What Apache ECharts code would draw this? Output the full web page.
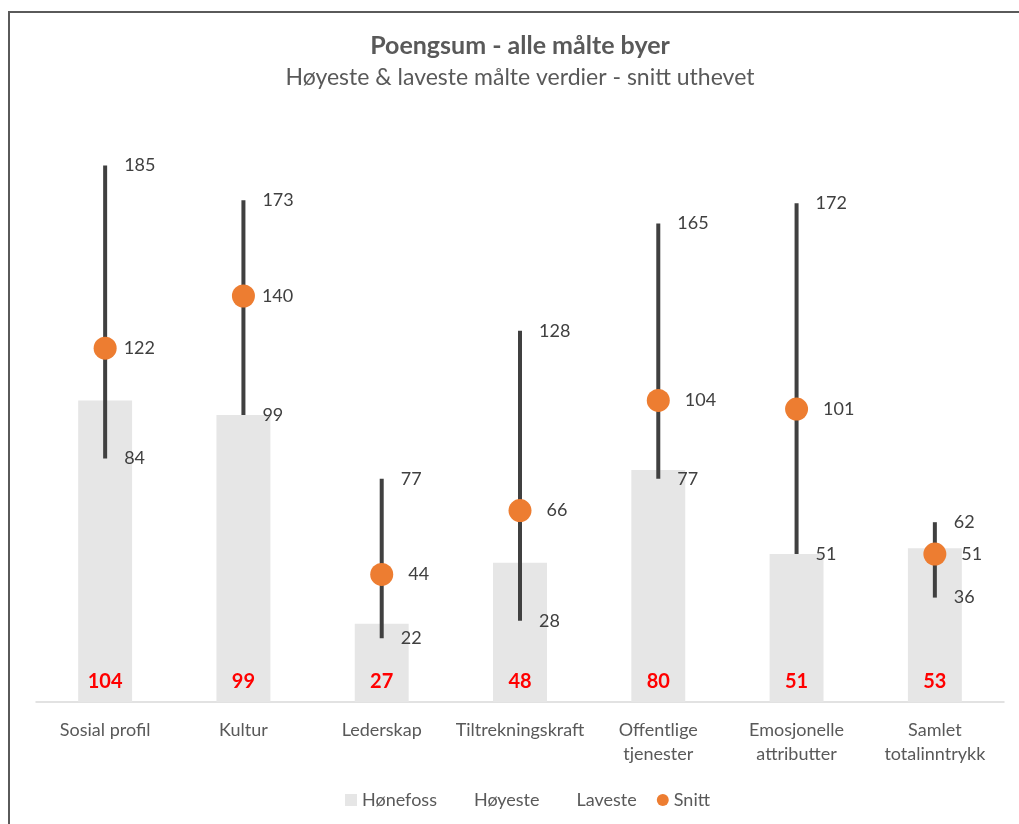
<!DOCTYPE html>
<html>
<head>
<meta charset="utf-8">
<script src="https://cdn.jsdelivr.net/npm/echarts@6/dist/echarts.min.js"></script>
<style>
html,body{margin:0;padding:0;background:#fff;}
#c{width:1019px;height:824px;}
</style>
</head>
<body>
<div id="c"></div>
<script>
const categories = ['Sosial profil', 'Kultur', 'Lederskap', 'Tiltrekningskraft', 'Offentlige\ntjenester', 'Emosjonelle\nattributter', 'Samlet\ntotalinntrykk'];
const honefoss = [104, 99, 27, 48, 80, 51, 53];
const hoyeste = [185, 173, 77, 128, 165, 172, 62];
const laveste = [84, 99, 22, 28, 77, 51, 36];
const snitt = [122, 140, 44, 66, 104, 101, 51];

const FONT = 'Lato, "Noto Sans", sans-serif';
const chart = echarts.init(document.getElementById('c'));

const rangeData = categories.map((c, i) => [i, laveste[i], hoyeste[i]]);

chart.setOption({
  animation: false,
  backgroundColor: '#ffffff',
  textStyle: { fontFamily: FONT },
  graphic: [
    { type: 'polyline', shape: { points: [[9, 824], [9, 12], [1019, 12]] }, style: { stroke: '#5a5a5a', lineWidth: 2, fill: null }, silent: true },
    { type: 'text', x: 520, y: 46, style: { text: 'Poengsum - alle målte byer', textAlign: 'center', textVerticalAlign: 'middle', font: 'bold 25px ' + FONT, fill: '#595959' } },
    { type: 'text', x: 520, y: 78, style: { text: 'Høyeste & laveste målte verdier - snitt uthevet', textAlign: 'center', textVerticalAlign: 'middle', font: '23px ' + FONT, fill: '#595959' } }
  ],
  legend: {
    left: 340,
    top: 786,
    itemWidth: 12,
    itemHeight: 12,
    itemGap: 20,
    textStyle: { color: '#595959', fontSize: 18, fontFamily: FONT },
    data: [
      { name: 'Hønefoss', icon: 'rect' },
      { name: 'Høyeste', icon: 'none' },
      { name: 'Laveste', icon: 'none' },
      { name: 'Snitt', icon: 'circle' }
    ]
  },
  grid: { left: 36, right: 15, top: 122, bottom: 122, containLabel: false },
  xAxis: {
    type: 'category',
    data: categories,
    axisLine: { lineStyle: { color: '#D9D9D9', width: 1.5 } },
    axisTick: { show: false },
    axisLabel: { color: '#595959', fontSize: 18, fontFamily: FONT, margin: 16, lineHeight: 24, interval: 0 }
  },
  yAxis: {
    type: 'value', min: 0, max: 200, interval: 50,
    show: false,
    splitLine: { show: false }
  },
  series: [
    {
      name: 'Hønefoss', type: 'bar', data: honefoss, barWidth: '39%',
      itemStyle: { color: '#E6E6E6' },
      label: { show: true, position: 'insideBottom', distance: 10, color: '#FF0000', fontWeight: 'bold', fontSize: 20, fontFamily: FONT },
      z: 1
    },
    {
      name: 'range', type: 'custom', data: rangeData, z: 3,
      renderItem: function (params, api) {
        const p1 = api.coord([api.value(0), api.value(1)]);
        const p2 = api.coord([api.value(0), api.value(2)]);
        return { type: 'line', shape: { x1: p1[0], y1: p1[1], x2: p2[0], y2: p2[1] }, style: { stroke: '#404040', lineWidth: 4 } };
      }
    },
    {
      name: 'Høyeste', type: 'scatter', data: hoyeste, symbolSize: 0, z: 4,
      itemStyle: { color: 'rgba(0,0,0,0)', opacity: 1 },
      label: { show: true, position: 'right', distance: 19, color: '#404040', fontSize: 18, fontFamily: FONT }
    },
    {
      name: 'Laveste', type: 'scatter', data: laveste, symbolSize: 0, z: 4,
      itemStyle: { color: 'rgba(0,0,0,0)', opacity: 1 },
      label: { show: true, position: 'right', distance: 19, color: '#404040', fontSize: 18, fontFamily: FONT }
    },
    {
      name: 'Snitt', type: 'scatter',
      data: snitt.map((v, i) => (i < 2 ? { value: v, label: { distance: 7 } } : v)),
      symbol: 'circle', symbolSize: 23, z: 5,
      itemStyle: { color: '#ED7D31', opacity: 1 },
      label: { show: true, position: 'right', distance: 15, color: '#404040', fontSize: 18, fontFamily: FONT }
    }
  ]
});
</script>
</body>
</html>
